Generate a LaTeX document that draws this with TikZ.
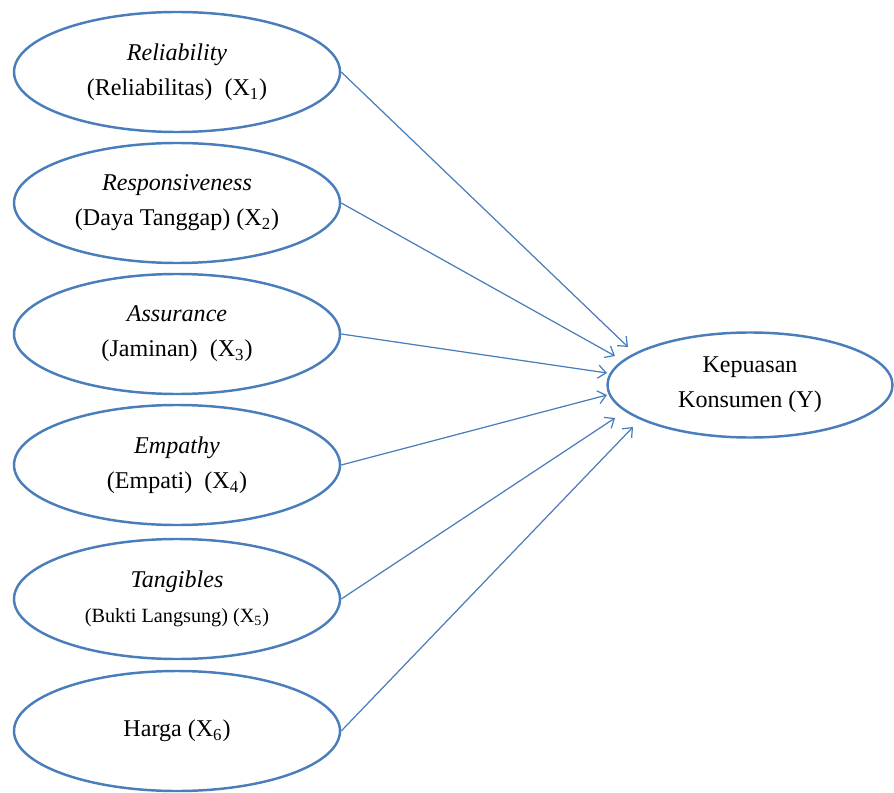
\documentclass[tikz,border=0pt]{standalone}
\usepackage{fontspec}
\setmainfont{Liberation Serif}
\usetikzlibrary{shapes.geometric,arrows.meta}
\definecolor{lineblue}{RGB}{74,126,187}
\tikzset{
  var/.style={ellipse, draw=lineblue, line width=1.4pt, minimum width=6.52cm,
    minimum height=2.4cm, inner sep=0pt, align=center,
    font=\fontsize{13.7}{20}\selectfont},
  path/.style={draw=lineblue, line width=0.7pt, -{Straight Barb[length=4.5pt,width=7.5pt]}}
}
\begin{document}
\begin{tikzpicture}
[line width=1pt]
\useasboundingbox (0,0) rectangle (17.88,15.84);
\node (X1) at (3.54, 14.40) [var] {\textit{Reliability}\\(Reliabilitas)\ \ (X\textsubscript{1})}; %% X1
\node (X2) at (3.54, 11.78) [var] {\textit{Responsiveness}\\(Daya Tanggap) (X\textsubscript{2})}; %% X2
\node (X3) at (3.54,  9.16) [var] {\textit{Assurance}\\(Jaminan)\ \ (X\textsubscript{3})}; %% X3
\node (X4) at (3.54,  6.54) [var] {\textit{Empathy}\\(Empati)\ \ (X\textsubscript{4})}; %% X4
\node (X5) at (3.54,  3.86) [var] {\textit{Tangibles}\\{\fontsize{11.5}{20}\selectfont(Bukti Langsung) (X\textsubscript{5})}}; %% X5
\node (X6) at (3.54,  1.22) [var] {Harga (X\textsubscript{6})}; %% X6
%%
\node (Y) at (15.0, 8.14) [var, minimum width=5.7cm, minimum height=2.1cm] {Kepuasan\\Konsumen (Y)}; %% Y
%%
\coordinate (t1) at (12.56, 8.90); %% tip 1
\coordinate (t2) at (12.30, 8.72); %% tip 2
\coordinate (t3) at (12.14, 8.38); %% tip 3
\coordinate (t4) at (12.14, 7.94); %% tip 4
\coordinate (t5) at (12.30, 7.48); %% tip 5
\coordinate (t6) at (12.66, 7.30); %% tip 6
\foreach \i in {1,...,6}
  \draw[path] (X\i.east) -- (t\i);
\end{tikzpicture}
\end{document}
